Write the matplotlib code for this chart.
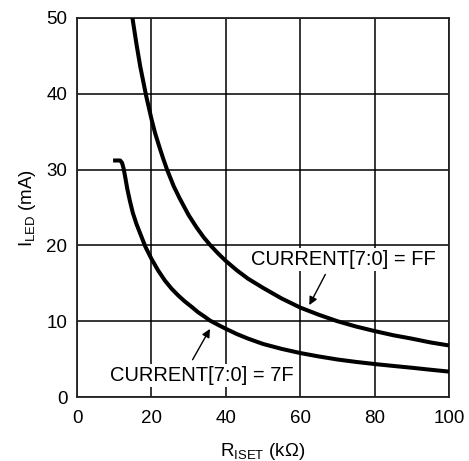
import numpy as np
import matplotlib.pyplot as plt

plt.rcParams['font.family'] = ['Liberation Sans', 'DejaVu Sans']
plt.rcParams['mathtext.default'] = 'regular'

# curve CURRENT[7:0] = FF
r_ff = [14.9, 16, 17, 18.6, 20, 21, 22.2, 23.2, 24.2, 26, 27.6, 30, 32.1, 34, 35.7, 38,
        40, 43, 46, 50, 55, 60, 65, 70, 75, 80, 85, 90, 95, 100]
i_ff = [50, 46.5, 43.6, 39.7, 36.7, 34.8, 32.9, 31.4, 30.0, 27.8, 26.2, 24.0, 22.4, 21.1,
        20.1, 18.9, 17.95, 16.7, 15.6, 14.4, 13.0, 11.8, 10.85, 10.0, 9.3, 8.7, 8.15,
        7.7, 7.2, 6.8]

# curve CURRENT[7:0] = 7F
r_7f = [9.7, 11.6, 12.1, 12.5, 13.0, 13.5, 14.2, 15.0, 16.0, 17.2, 18.4, 20, 21.8,
        23.6, 25.4, 27.2, 29, 30.8, 32.5, 34.3, 35.7, 38, 40, 43, 46, 50, 55, 60, 65,
        70, 75, 80, 85, 90, 95, 100]
i_7f = [31.2, 31.2, 30.9, 30.2, 28.9, 27.5, 25.9, 24.3, 22.8, 21.3, 19.8, 18.24, 16.7,
        15.38, 14.3, 13.4, 12.6, 11.9, 11.2, 10.6, 10.1, 9.5, 9.0, 8.3, 7.7, 7.0, 6.35,
        5.8, 5.35, 4.95, 4.63, 4.35, 4.1, 3.86, 3.6, 3.35]

x_ticks = [0, 20, 40, 60, 80, 100]
y_ticks = [0, 10, 20, 30, 40, 50]

fig = plt.figure(figsize=(4.69, 4.61), dpi=100)
ax = fig.add_axes([0.1642, 0.1388, 0.7932, 0.8222])

ax.plot(r_ff, i_ff, color='k', lw=2.9, solid_capstyle='butt', solid_joinstyle='round', zorder=3)
ax.plot(r_7f, i_7f, color='k', lw=2.9, solid_capstyle='butt', solid_joinstyle='round', zorder=3)

ax.set_xlim(0, 100)
ax.set_ylim(0, 50)
ax.set_xticks(x_ticks)
ax.set_yticks(y_ticks)
ax.grid(True, color='k', lw=1.1)
ax.tick_params(length=0, labelsize=13.5, pad=9)
ax.tick_params(axis='y', pad=7)
for s in ax.spines.values():
    s.set_linewidth(1.3)
    s.set_color('#222222')

ax.set_xlabel(r'$R_{ISET}$ (k$\Omega$)', fontsize=13.5, labelpad=10.5)
ax.set_ylabel(r'$I_{LED}$ (mA)', fontsize=13.5, labelpad=6)

# labels with arrows
box = dict(facecolor='white', edgecolor='none', pad=1.5)
ax.text(71.5, 18.2, 'CURRENT[7:0] = FF', fontsize=14.5, ha='center', va='center',
        bbox=box, zorder=4)
ax.annotate('', xy=(62.1, 11.8), xytext=(67.1, 16.5),
            arrowprops=dict(arrowstyle='-|>', color='k', lw=1.0, mutation_scale=12),
            zorder=5)
ax.text(33.6, 2.9, 'CURRENT[7:0] = 7F', fontsize=14.5, ha='center', va='center',
        bbox=box, zorder=4)
ax.annotate('', xy=(36.1, 9.3), xytext=(30.7, 4.6),
            arrowprops=dict(arrowstyle='-|>', color='k', lw=1.0, mutation_scale=12),
            zorder=5)

fig.savefig('out.png', dpi=100)
